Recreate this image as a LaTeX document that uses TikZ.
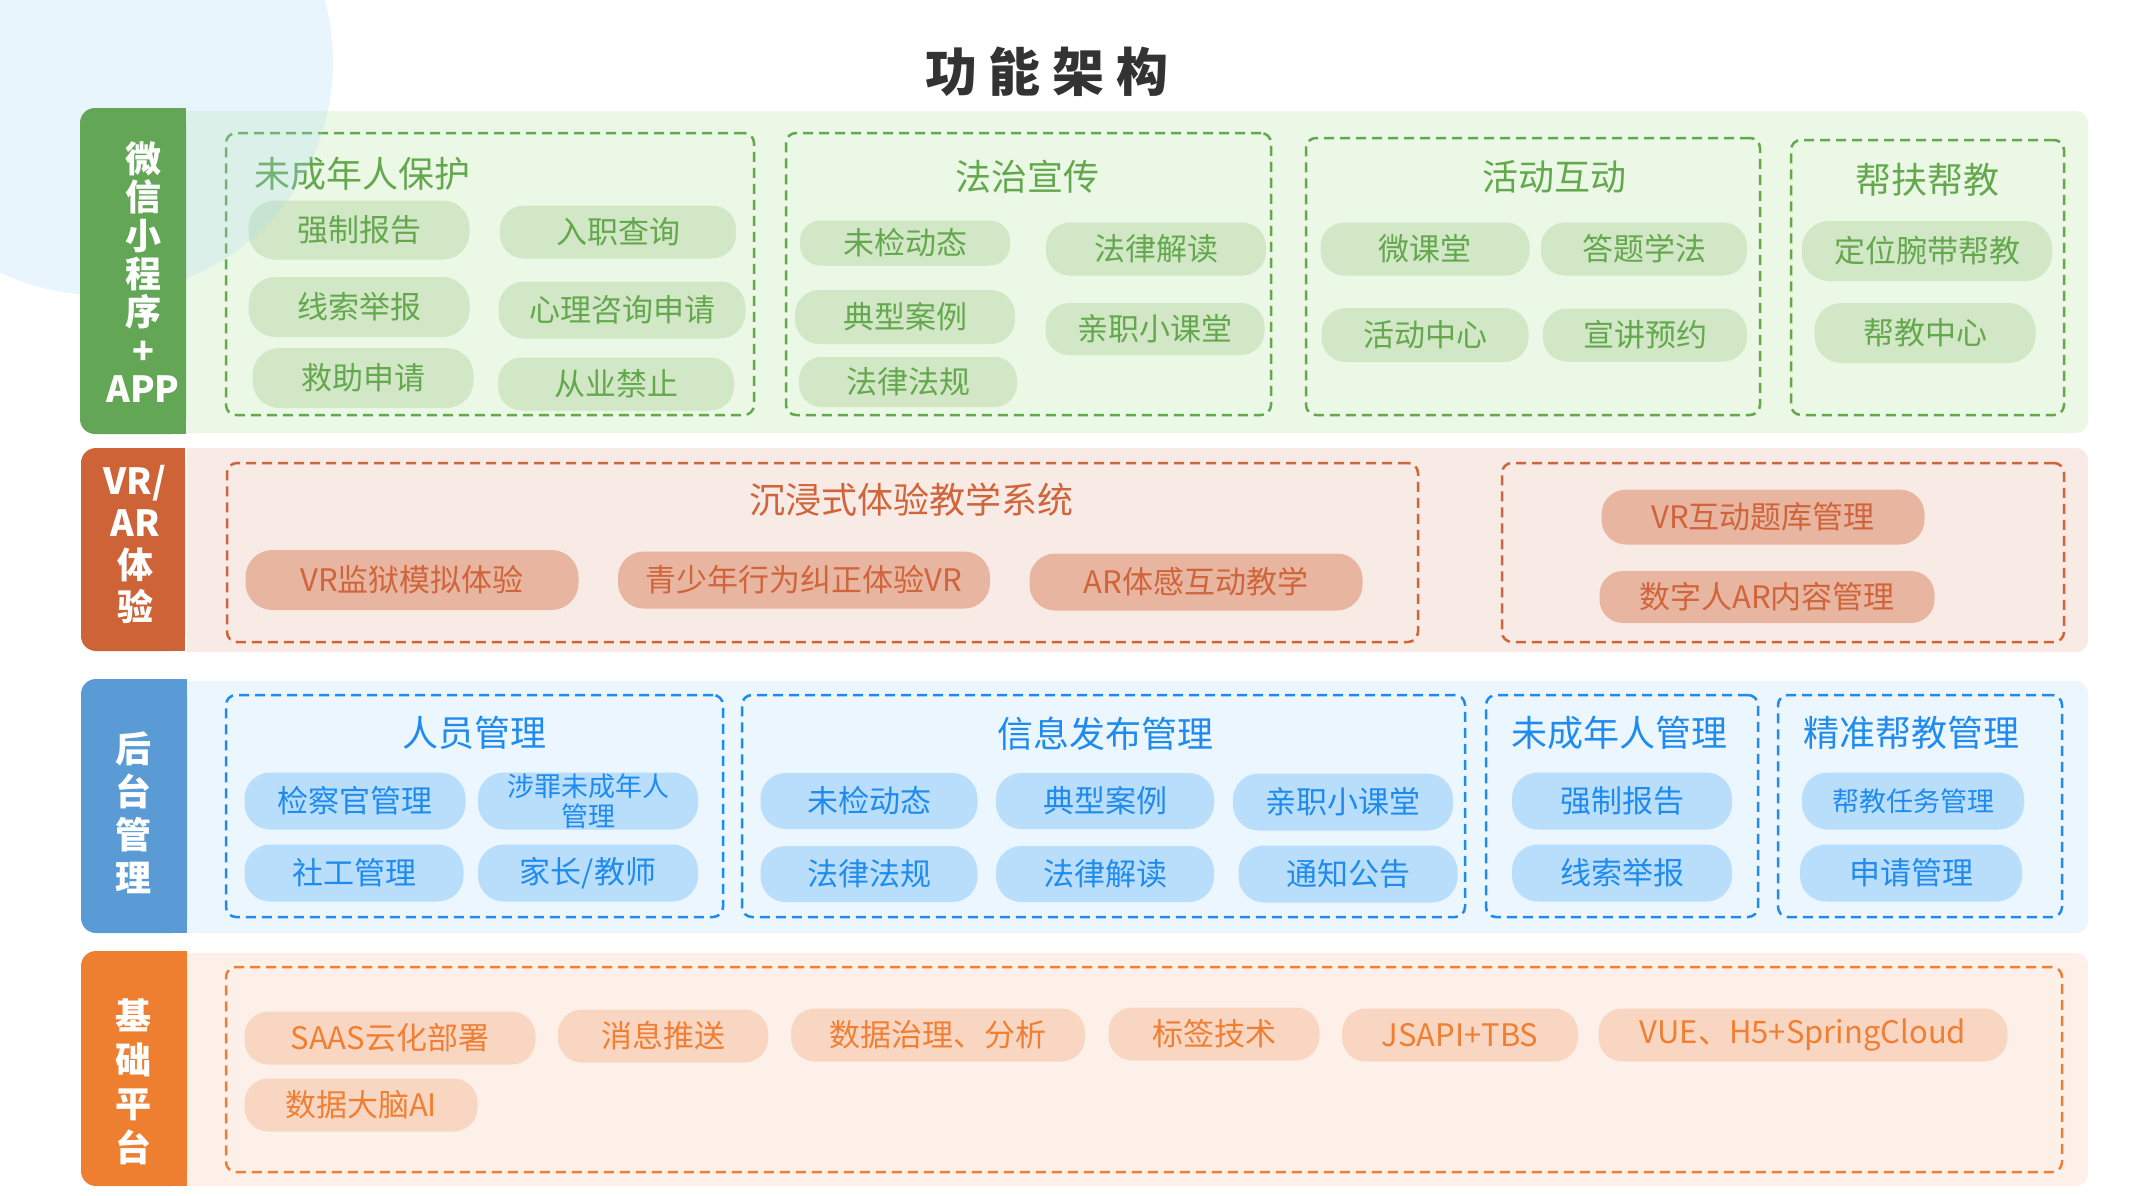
\documentclass[tikz,border=0pt]{standalone}
\usepackage{fontspec}
\setmainfont{Noto Sans CJK SC}
\definecolor{gLab}{HTML}{62A656}
\definecolor{gPan}{HTML}{EBF8E5}
\definecolor{gPill}{HTML}{D2E7C6}
\definecolor{gTxt}{HTML}{64A84E}
\definecolor{rLab}{HTML}{CD6337}
\definecolor{rPan}{HTML}{F8EAE4}
\definecolor{rPill}{HTML}{E7B5A0}
\definecolor{rTxt}{HTML}{D0643A}
\definecolor{bLab}{HTML}{5B9BD5}
\definecolor{bPan}{HTML}{ECF6FE}
\definecolor{bPill}{HTML}{B9DEFB}
\definecolor{bTxt}{HTML}{1F8BEF}
\definecolor{oLab}{HTML}{EE7F31}
\definecolor{oPan}{HTML}{FDF0E8}
\definecolor{oPill}{HTML}{F8D6C1}
\definecolor{oTxt}{HTML}{F07F33}
\definecolor{circ}{HTML}{A7D8F5}
\definecolor{ttl}{HTML}{333333}
\newcommand\mkpill[7]{\node[#2,minimum width=#5pt,minimum height=#6pt,rounded corners={0.45*#6pt}] (#1) at (#3,#4) {#7};}
\newcommand\mkbox[6]{\node[#2,minimum width={(#5-#3)*1pt},minimum height={(#6-#4)*1pt}] (#1) at ({(#3+#5)/2},{(#4+#6)/2}) {};}
\tikzset{
  pill/.style={inner sep=0pt, align=center, font=\fontsize{31}{35}\selectfont},
  spill/.style={pill, font=\fontsize{27}{30}\selectfont},
  gpill/.style={pill, fill=gPill, text=gTxt},
  rpill/.style={pill, fill=rPill, text=rTxt},
  bpill/.style={pill, fill=bPill, text=bTxt},
  bspill/.style={spill, fill=bPill, text=bTxt},
  opill/.style={pill, fill=oPill, text=oTxt},
  dbox/.style={line width=2.5pt, dash pattern=on 10pt off 6pt, rounded corners=10pt, inner sep=0pt},
  gbox/.style={dbox, draw=gTxt},
  rbox/.style={dbox, draw=rTxt},
  bbox/.style={dbox, draw=bTxt},
  obox/.style={dbox, draw=oTxt},
  grptitle/.style={inner sep=0pt, font=\fontsize{36}{40}\selectfont},
  labtxt/.style={text=white, align=center, inner sep=0pt},
}
\begin{document}
\begin{tikzpicture}[x=1pt,y=-1pt]
\useasboundingbox (0,0) rectangle (2139,1195);
\fill[white] (0,0) rectangle (2139,1195);
% title
\node[text=ttl, font=\fontsize{52}{58}\selectfont\bfseries, inner sep=0pt] (title) at (1047,72) {功\hspace{12pt}能\hspace{12pt}架\hspace{12pt}构};
% ---------- panels ----------
\fill[gPan, rounded corners=12pt] (186,111) rectangle (2088,433);
\fill[gPan] (186,111) rectangle (300,433);
\fill[rPan, rounded corners=12pt] (187,448) rectangle (2088,652);
\fill[rPan] (187,448) rectangle (300,652);
\fill[bPan, rounded corners=12pt] (187,681) rectangle (2088,933);
\fill[bPan] (187,681) rectangle (300,933);
\fill[oPan, rounded corners=12pt] (187,953) rectangle (2088,1186);
\fill[oPan] (187,953) rectangle (300,1186);
% ---------- row 1 ----------
\mkbox{g1}{gbox}{226}{133}{754}{415}
\mkbox{g2}{gbox}{786}{133}{1271}{415}
\mkbox{g3}{gbox}{1306}{138}{1760}{415}
\mkbox{g4}{gbox}{1791}{140}{2064}{415}
\node[grptitle, text=gTxt, anchor=west] (t1) at (254,174) {未成年人保护};
\node[grptitle, text=gTxt] (t2) at (1027,177) {法治宣传};
\node[grptitle, text=gTxt] (t3) at (1554,177) {活动互动};
\node[grptitle, text=gTxt] (t4) at (1927,180) {帮扶帮教};
\mkpill{p11}{gpill}{359}{230}{221}{59}{强制报告}
\mkpill{p12}{gpill}{618}{232}{236}{53}{入职查询}
\mkpill{p13}{gpill}{359}{307}{221}{60}{线索举报}
\mkpill{p14}{gpill}{622}{310}{247}{57}{心理咨询申请}
\mkpill{p15}{gpill}{363}{378}{221}{60}{救助申请}
\mkpill{p16}{gpill}{616}{384}{236}{53}{从业禁止}
\mkpill{p21}{gpill}{905}{243}{210}{45}{未检动态}
\mkpill{p22}{gpill}{1156}{249}{220}{53}{法律解读}
\mkpill{p23}{gpill}{905}{317}{220}{54}{典型案例}
\mkpill{p24}{gpill}{1155}{329}{219}{52}{亲职小课堂}
\mkpill{p25}{gpill}{908}{382}{218}{50}{法律法规}
\mkpill{p31}{gpill}{1425}{249}{209}{53}{微课堂}
\mkpill{p32}{gpill}{1644}{249}{206}{53}{答题学法}
\mkpill{p33}{gpill}{1425}{335}{207}{54}{活动中心}
\mkpill{p34}{gpill}{1645}{335}{204}{53}{宣讲预约}
\mkpill{p41}{gpill}{1927}{251}{250}{60}{定位腕带帮教}
\mkpill{p42}{gpill}{1925}{333}{221}{60}{帮教中心}
% ---------- row 2 ----------
\mkbox{r1}{rbox}{227}{463}{1418}{642}
\mkbox{r2}{rbox}{1502}{463}{2064}{642}
\node[grptitle, text=rTxt] (t5) at (911,500) {沉浸式体验教学系统};
\mkpill{q1}{rpill}{412}{580}{333}{60}{VR监狱模拟体验}
\mkpill{q2}{rpill}{804}{580}{372}{57}{青少年行为纠正体验VR}
\mkpill{q3}{rpill}{1196}{582}{333}{57}{AR体感互动教学}
\mkpill{q4}{rpill}{1763}{517}{323}{55}{VR互动题库管理}
\mkpill{q5}{rpill}{1767}{597}{335}{52}{数字人AR内容管理}
% ---------- row 3 ----------
\mkbox{b1}{bbox}{226}{695}{723}{917}
\mkbox{b2}{bbox}{742}{695}{1465}{917}
\mkbox{b3}{bbox}{1486}{695}{1758}{917}
\mkbox{b4}{bbox}{1778}{695}{2062}{917}
\node[grptitle, text=bTxt] (t6) at (474,733) {人员管理};
\node[grptitle, text=bTxt] (t7) at (1105,734) {信息发布管理};
\node[grptitle, text=bTxt] (t8) at (1619,733) {未成年人管理};
\node[grptitle, text=bTxt] (t9) at (1911,733) {精准帮教管理};
\mkpill{s1}{bpill}{355}{801}{221}{57}{检察官管理}
\mkpill{s2}{bspill}{588}{801}{220}{57}{涉罪未成年人\\管理}
\mkpill{s3}{bpill}{354}{873}{219}{57}{社工管理}
\mkpill{s4}{bpill}{588}{873}{220}{57}{家长/教师}
\mkpill{s5}{bpill}{869}{801}{217}{56}{未检动态}
\mkpill{s6}{bpill}{1105}{801}{218}{56}{典型案例}
\mkpill{s7}{bpill}{1343}{802}{220}{57}{亲职小课堂}
\mkpill{s8}{bpill}{869}{874}{217}{56}{法律法规}
\mkpill{s9}{bpill}{1105}{874}{218}{56}{法律解读}
\mkpill{s10}{bpill}{1348}{874}{219}{57}{通知公告}
\mkpill{s11}{bpill}{1622}{801}{220}{57}{强制报告}
\mkpill{s12}{bpill}{1622}{873}{220}{57}{线索举报}
\mkpill{s13}{bspill}{1913}{801}{222}{57}{帮教任务管理}
\mkpill{s14}{bpill}{1911}{873}{222}{57}{申请管理}
% ---------- row 4 ----------
\mkbox{o1}{obox}{226}{967}{2062}{1172}
\mkpill{u1}{opill}{390}{1038}{291}{53}{SAAS云化部署}
\mkpill{u2}{opill}{663}{1036}{210}{53}{消息推送}
\mkpill{u3}{opill}{938}{1035}{294}{53}{数据治理、分析}
\mkpill{u4}{opill}{1214}{1034}{211}{53}{标签技术}
\mkpill{u5}{opill}{1460}{1035}{236}{53}{JSAPI+TBS}
\mkpill{u6}{opill}{1803}{1035}{409}{53}{VUE、H5+SpringCloud}
\mkpill{u7}{opill}{361}{1105}{233}{53}{数据大脑AI}
% decorative circle
\fill[circ, opacity=0.24] (100,62) circle[radius=233];
% ---------- labels (above the circle) ----------
\fill[gLab, rounded corners=15pt] (80,108) rectangle (186,434);
\fill[gLab] (150,108) rectangle (186,434);
\fill[rLab, rounded corners=15pt] (81,448) rectangle (185,651);
\fill[rLab] (150,448) rectangle (185,651);
\fill[bLab, rounded corners=15pt] (81,679) rectangle (187,933);
\fill[bLab] (150,679) rectangle (187,933);
\fill[oLab, rounded corners=15pt] (81,951) rectangle (187,1186);
\fill[oLab] (150,951) rectangle (187,1186);
\node[labtxt, font=\fontsize{36}{38.3}\selectfont\bfseries] (lab1) at (143,272) {微\\信\\小\\程\\序\\+\\APP};
\node[labtxt, font=\fontsize{36}{42}\selectfont\bfseries] (lab2) at (135,544) {VR/\\AR\\体\\验};
\node[labtxt, font=\fontsize{36}{43}\selectfont\bfseries] (lab3) at (133,813) {后\\台\\管\\理};
\node[labtxt, font=\fontsize{36}{44}\selectfont\bfseries] (lab4) at (133,1082) {基\\础\\平\\台};
\end{tikzpicture}
\end{document}
